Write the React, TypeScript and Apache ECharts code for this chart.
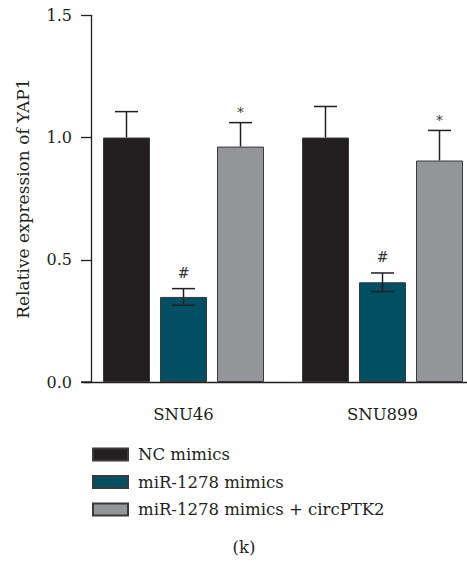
import React, { useEffect, useRef } from "react";
import * as echarts from "echarts";

const categories = ["SNU46", "SNU899"];
const seriesNames = ["NC mimics", "miR-1278 mimics", "miR-1278 mimics + circPTK2"];
const ncMeans = [1.0, 1.0];
const ncErr = [0.106, 0.127];
const mirMeans = [0.348, 0.408];
const mirErr = [0.034, 0.038];
const circMeans = [0.963, 0.906];
const circErr = [0.098, 0.123];
const ncMarks = ["", ""];
const mirMarks = ["#", "#"];
const circMarks = ["*", "*"];
const yTicks = [0, 0.5, 1.0, 1.5];

const colors = ["#231f20", "#004f62", "#939598"];
const FONT = "DejaVu Serif";
const DARK = "#231f20";

export default function App() {
  const ref = useRef<HTMLDivElement>(null);
  useEffect(() => {
    if (!ref.current) return;
    const chart = echarts.init(ref.current, null, { renderer: "svg" });
    const barWidth = 47;
    const barGapPct = 0.213;
    const step = barWidth * (1 + barGapPct);
    const groups = [
      { means: ncMeans, errs: ncErr, marks: ncMarks, lower: false },
      { means: mirMeans, errs: mirErr, marks: mirMarks, lower: true },
      { means: circMeans, errs: circErr, marks: circMarks, lower: false },
    ];
    const barSeries = groups.map((g, i) => ({
      name: seriesNames[i],
      type: "bar",
      data: g.means,
      barWidth,
      barGap: barGapPct * 100 + "%",
      barCategoryGap: "19%",
      itemStyle: { color: colors[i], borderColor: "#3a3a3a", borderWidth: 1 },
      z: 2,
    }));
    const errSeries = groups.map((g, i) => ({
      type: "custom",
      name: "err" + i,
      z: 5,
      data: g.means.map((m, k) => [k, m, g.errs[k]]),
      renderItem: (params: any, api: any) => {
        const ci = api.value(0);
        const v = api.value(1);
        const e = api.value(2);
        const cx = api.coord([ci, v])[0] + (i - 1) * step;
        const yv = api.coord([ci, v])[1];
        const yt = api.coord([ci, v + e])[1];
        const yb = api.coord([ci, v - e])[1];
        const half = 11.5;
        const style = { stroke: DARK, lineWidth: 1.5 };
        const children: any[] = [
          { type: "line", shape: { x1: cx, y1: g.lower ? yb : yv, x2: cx, y2: yt }, style },
          { type: "line", shape: { x1: cx - half, y1: yt, x2: cx + half, y2: yt }, style },
        ];
        if (g.lower) {
          children.push({ type: "line", shape: { x1: cx - half, y1: yb, x2: cx + half, y2: yb }, style });
        }
        const mark = g.marks[params.dataIndex];
        if (mark) {
          const isStar = mark === "*";
          children.push({
            type: "text",
            x: cx,
            y: isStar ? yt - 10 : yt - 16,
            style: {
              text: mark,
              fill: "#333",
              fontFamily: FONT,
              fontSize: isStar ? 13 : 14,
              textAlign: "center",
              textVerticalAlign: "middle",
            },
          });
        }
        return { type: "group", children };
      },
    }));

    chart.setOption({
      animation: false,
      textStyle: { fontFamily: FONT },
      grid: { left: 84, right: -15, top: 15.3, bottom: 179, containLabel: false, outerBoundsMode: "none" },
      legend: {
        data: seriesNames,
        orient: "vertical",
        left: 92,
        top: 446,
        padding: 0,
        itemWidth: 35,
        itemHeight: 12,
        itemGap: 10.5,
        icon: "rect",
        textStyle: { fontFamily: FONT, fontSize: 16.5, color: DARK, lineHeight: 17, padding: [0, 0, 0, 5] },
      },
      xAxis: {
        type: "category",
        data: categories,
        axisLine: { lineStyle: { color: DARK, width: 1.3 } },
        axisTick: { alignWithLabel: true, length: 11, lineStyle: { color: DARK, width: 1.3 } },
        axisLabel: { fontFamily: FONT, fontSize: 16.5, color: DARK, margin: 24 },
      },
      yAxis: {
        type: "value",
        min: 0,
        max: 1.5,
        interval: 0.5,
        offset: -7,
        name: "Relative expression of YAP1",
        nameLocation: "middle",
        nameGap: 60,
        nameTextStyle: { fontFamily: FONT, fontSize: 17, color: DARK },
        axisLine: { show: true, lineStyle: { color: DARK, width: 1.3 } },
        axisTick: { show: true, length: 10, lineStyle: { color: DARK, width: 1.3 } },
        splitLine: { show: false },
        axisLabel: {
          fontFamily: FONT,
          fontSize: 16,
          color: DARK,
          margin: 19,
          formatter: (v: number) => (yTicks.includes(v) ? v.toFixed(1) : ""),
        },
      },
      graphic: [
        { type: "line", shape: { x1: 81, y1: 382, x2: 91, y2: 382 }, style: { stroke: DARK, lineWidth: 1.3 } },
        {
          type: "text",
          x: 244,
          y: 547,
          style: { text: "(k)", fontFamily: FONT, fontSize: 16.5, fill: DARK, textAlign: "center", textVerticalAlign: "middle" },
        },
      ],
      series: [...barSeries, ...errSeries],
    });
    return () => chart.dispose();
  }, []);
  return <div ref={ref} style={{ width: 467, height: 561, position: "absolute", left: 0, top: 0 }} />;
}
